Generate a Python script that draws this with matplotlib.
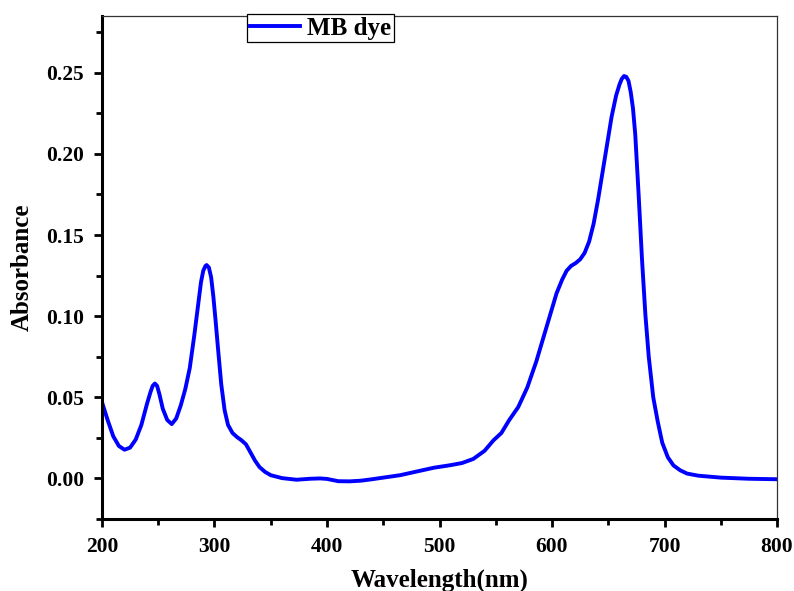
import matplotlib
matplotlib.use("Agg")
import matplotlib.pyplot as plt
from matplotlib.ticker import MultipleLocator

# MB dye UV-Vis spectrum
wavelength = [200, 205, 210, 215, 220, 225, 230, 235, 240, 243, 245, 247, 249, 251,
              254, 258, 262, 266, 270, 274, 278, 282, 286, 288, 290, 292, 293, 295,
              297, 299, 301, 303, 306, 309, 312, 316, 320, 324, 328, 332, 336, 340,
              345, 350, 360, 373, 385, 394, 400, 410, 420, 430, 440, 450, 465, 480,
              495, 510, 520, 530, 540, 548, 555, 562, 570, 578, 586, 595, 604, 609,
              613, 617, 621, 625, 629, 633, 637, 641, 645, 649, 653, 657, 660, 662,
              664, 666, 668, 670, 672, 674, 677, 680, 683, 686, 690, 694, 698, 703,
              708, 714, 720, 730, 750, 775, 800]
absorbance = [0.047, 0.036, 0.026, 0.020, 0.0177, 0.019, 0.024, 0.033, 0.046, 0.053,
              0.057, 0.0585, 0.057, 0.052, 0.043, 0.036, 0.0335, 0.037, 0.045, 0.055,
              0.068, 0.088, 0.110, 0.121, 0.128, 0.131, 0.1315, 0.130, 0.124, 0.112,
              0.097, 0.081, 0.058, 0.042, 0.033, 0.028, 0.0255, 0.0235, 0.021, 0.016,
              0.011, 0.007, 0.004, 0.002, 0.0002, -0.0008, -0.0002, 0.0, -0.0003,
              -0.0017, -0.0018, -0.0014, -0.0005, 0.0005, 0.002, 0.0043, 0.0066,
              0.0082, 0.0095, 0.012, 0.017, 0.0235, 0.028, 0.036, 0.044, 0.056, 0.072,
              0.093, 0.114, 0.1225, 0.128, 0.131, 0.1327, 0.135, 0.139, 0.146, 0.157,
              0.172, 0.189, 0.206, 0.223, 0.236, 0.2428, 0.2462, 0.248, 0.2475, 0.245,
              0.238, 0.228, 0.212, 0.175, 0.135, 0.101, 0.075, 0.050, 0.035, 0.022,
              0.013, 0.008, 0.005, 0.003, 0.0017, 0.0005, -0.0002, -0.0005]

plt.rcParams['font.family'] = 'Liberation Serif'
plt.rcParams['font.weight'] = 'bold'

fig = plt.figure(figsize=(7.94, 5.91), dpi=100)
ax = fig.add_axes([102/794, 72/591, 675/794, 503/591])

ax.plot(wavelength, absorbance, color='#0000ff', linewidth=2.8, label='MB dye',
        solid_joinstyle='round')

ax.set_xlim(200, 800)
ax.set_ylim(-0.025, 0.285)
ax.xaxis.set_major_locator(MultipleLocator(100))
ax.xaxis.set_minor_locator(MultipleLocator(50))
ax.yaxis.set_major_locator(MultipleLocator(0.05))
ax.yaxis.set_minor_locator(MultipleLocator(0.025))
ax.yaxis.set_major_formatter(lambda v, p: f"{v:.2f}")

for side in ['left', 'bottom']:
    ax.spines[side].set_linewidth(2.2)
    ax.spines[side].set_color('black')
for side in ['top', 'right']:
    ax.spines[side].set_linewidth(0.9)
    ax.spines[side].set_color('#333333')

ax.tick_params(which='major', direction='out', length=6, width=2, labelsize=15.5, pad=7)
ax.tick_params(which='minor', direction='out', length=4, width=2)

ax.set_xlabel('Wavelength(nm)', fontsize=18, fontweight='bold', labelpad=8)
ax.set_ylabel('Absorbance', fontsize=18, fontweight='bold', labelpad=9)

fig.legend(loc='upper left', bbox_to_anchor=(247/794, 1 - 14/591), fontsize=18,
           frameon=True, fancybox=False, edgecolor='black', framealpha=1,
           handlelength=2.0, borderpad=0.1, handletextpad=0.3, borderaxespad=0)
fig.legends[0].get_frame().set_linewidth(0.9)

fig.savefig('out.png', dpi=100)
